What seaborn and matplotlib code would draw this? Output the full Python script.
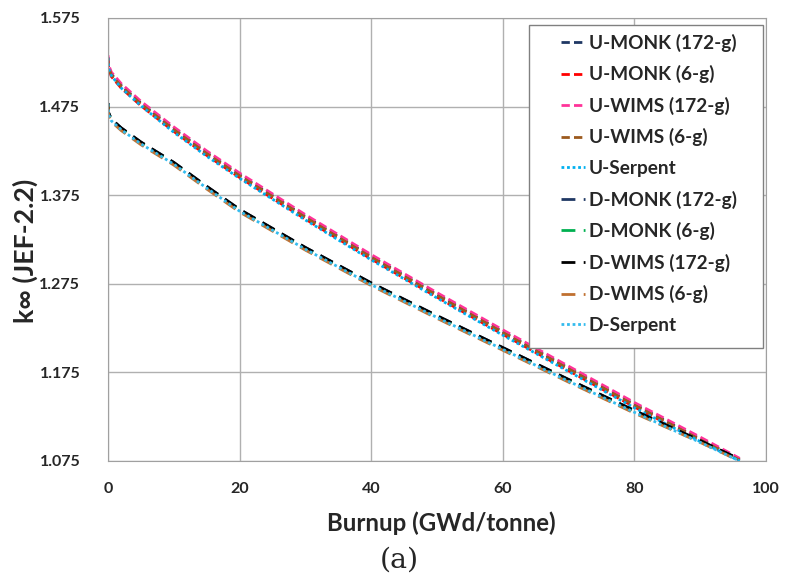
import matplotlib
matplotlib.use("Agg")
import matplotlib.pyplot as plt
import seaborn as sns
import pandas as pd
from matplotlib.ticker import MultipleLocator, FixedLocator
from matplotlib.patches import Rectangle

burnup = [0, 0.1, 0.5, 2, 5, 10, 15, 20, 30, 40, 50, 60, 70, 80, 90, 96]

u_monk_172 = [1.531, 1.520, 1.512, 1.499, 1.479, 1.450, 1.423, 1.398, 1.351, 1.306, 1.263, 1.221, 1.180, 1.139, 1.100, 1.077]
u_monk_6   = [1.529, 1.518, 1.509, 1.496, 1.476, 1.447, 1.420, 1.395, 1.348, 1.303, 1.260, 1.218, 1.177, 1.136, 1.098, 1.076]
u_wims_172 = [1.533, 1.522, 1.514, 1.501, 1.481, 1.452, 1.425, 1.400, 1.353, 1.308, 1.265, 1.223, 1.182, 1.141, 1.102, 1.078]
u_wims_6   = [1.530, 1.519, 1.511, 1.498, 1.478, 1.449, 1.422, 1.397, 1.350, 1.305, 1.262, 1.220, 1.179, 1.138, 1.099, 1.076]
u_serpent  = [1.530, 1.518, 1.510, 1.496, 1.476, 1.446, 1.419, 1.394, 1.347, 1.302, 1.259, 1.217, 1.176, 1.135, 1.097, 1.075]

d_monk_172 = [1.479, 1.468, 1.461, 1.451, 1.435, 1.412, 1.385, 1.359, 1.316, 1.276, 1.239, 1.203, 1.167, 1.132, 1.098, 1.077]
d_monk_6   = [1.478, 1.467, 1.460, 1.450, 1.434, 1.411, 1.384, 1.358, 1.315, 1.275, 1.238, 1.202, 1.166, 1.131, 1.097, 1.076]
d_wims_172 = [1.479, 1.468, 1.461, 1.451, 1.435, 1.412, 1.385, 1.359, 1.316, 1.276, 1.239, 1.203, 1.167, 1.132, 1.098, 1.077]
d_wims_6   = [1.477, 1.465, 1.458, 1.448, 1.432, 1.409, 1.382, 1.356, 1.313, 1.273, 1.236, 1.200, 1.164, 1.129, 1.096, 1.075]
d_serpent  = [1.478, 1.466, 1.459, 1.449, 1.433, 1.410, 1.383, 1.357, 1.314, 1.274, 1.237, 1.201, 1.165, 1.130, 1.096, 1.075]

series_names = ["U-MONK (172-g)", "U-MONK (6-g)", "U-WIMS (172-g)", "U-WIMS (6-g)", "U-Serpent",
                "D-MONK (172-g)", "D-MONK (6-g)", "D-WIMS (172-g)", "D-WIMS (6-g)", "D-Serpent"]
series_values = [u_monk_172, u_monk_6, u_wims_172, u_wims_6, u_serpent,
                 d_monk_172, d_monk_6, d_wims_172, d_wims_6, d_serpent]
y_tick_values = [1.075, 1.175, 1.275, 1.375, 1.475, 1.575]
y_tick_labels = ["1.075", "1.175", "1.275", "1.375", "1.475", "1.575"]

colors = ["#1F3864", "#FF0000", "#FF3399", "#9C5A1E", "#00B0F0",
          "#1F3864", "#00B050", "#000000", "#C07030", "#33BBEE"]
dash_styles = [(3, 1.5), (3, 1.5), (3, 1.5), (3, 1.5), (1, 1),
               (5, 3), (5, 3), (5, 3), (5, 3), (1, 1)]

rows = []
for name, vals in zip(series_names, series_values):
    for b, v in zip(burnup, vals):
        rows.append({"Burnup": b, "k": v, "Series": name})
df = pd.DataFrame(rows)

sns.set_style("white")
plt.rcParams['font.family'] = ['Lato', 'DejaVu Sans']

W, H = 785, 579
fig = plt.figure(figsize=(W / 100, H / 100), dpi=100)
ax = fig.add_axes([108 / W, 1 - 461 / H, (766 - 108) / W, (461 - 18) / H])

sns.lineplot(data=df, x="Burnup", y="k", hue="Series", style="Series",
             palette=dict(zip(series_names, colors)),
             dashes=dict(zip(series_names, dash_styles)),
             hue_order=series_names, style_order=series_names,
             linewidth=2.0, ax=ax, legend=True)

fig.canvas.draw()
r = fig.canvas.get_renderer()


def fitted_size(s, target_px, weight="bold", family=None, base=12.0):
    kw = {"fontsize": base, "fontweight": weight}
    if family:
        kw["family"] = family
    t = fig.text(0, 0, s, **kw)
    w = t.get_window_extent(r).width
    t.remove()
    return base * target_px / w


tick_fs = fitted_size("1.375", 41)
xlab_fs = fitted_size("Burnup (GWd/tonne)", 227)
ylab_fs = fitted_size("k∞ (JEF-2.2)", 144)
leg_fs = fitted_size("U-MONK (172-g)", 147)
cap_fs = fitted_size("(a)", 39, weight="normal", family="DejaVu Serif")

ax.set_xlim(0, 100)
ax.set_ylim(1.075, 1.575)
ax.xaxis.set_major_locator(MultipleLocator(20))
ax.xaxis.set_minor_locator(MultipleLocator(4))
ax.yaxis.set_major_locator(FixedLocator(y_tick_values))
ax.yaxis.set_minor_locator(FixedLocator([1.075 + 0.02 * i for i in range(26)]))
ax.set_yticklabels(y_tick_labels)
ax.grid(True, which="major", color="#B0B0B0", linewidth=1.0)
ax.set_axisbelow(True)
for s in ax.spines.values():
    s.set_color("#A0A0A0")
ax.tick_params(axis="x", which="both", direction="out", length=4.5, color="#A0A0A0",
               labelsize=tick_fs, pad=10.5)
ax.tick_params(axis="y", which="both", direction="out", length=6, color="#A0A0A0",
               labelsize=tick_fs, pad=14)
for lbl in ax.get_xticklabels() + ax.get_yticklabels():
    lbl.set_fontweight("bold")

ax.set_xlabel("Burnup (GWd/tonne)", fontsize=xlab_fs, fontweight="bold")
ax.set_ylabel("k∞ (JEF-2.2)", fontsize=ylab_fs, fontweight="bold")
ax.xaxis.label.set_va("center")
ax.yaxis.label.set_va("center")
ax.xaxis.set_label_coords((441 - 108) / 658, -(523 - 461) / 443)
ax.yaxis.set_label_coords((25 - 108) / 658, (461 - 251) / 443)

# legend frame drawn separately (reference box has wide left margin)
frame = Rectangle((529 / W, 1 - 348 / H), (763 - 529) / W, (348 - 25) / H,
                  transform=fig.transFigure, facecolor="white", edgecolor="#808080",
                  linewidth=1.0, zorder=4.9, clip_on=False)
ax.add_patch(frame)

leg_px = leg_fs * 100 / 72
leg = ax.legend(loc="upper left", bbox_to_anchor=(552 / W, 1 - 25 / H),
                bbox_transform=fig.transFigure, frameon=False,
                prop={"weight": "bold", "size": leg_fs},
                handlelength=24 / leg_px, handletextpad=4 / leg_px,
                labelspacing=(32.1 - leg_px * 1.17) / leg_px + 0.19,
                borderpad=0.45, borderaxespad=0)

fig.text(399 / W, 1 - 560 / H, "(a)", ha="center", va="center",
         fontsize=cap_fs, fontweight="normal", family="DejaVu Serif")

fig.savefig("out.png", dpi=100)
